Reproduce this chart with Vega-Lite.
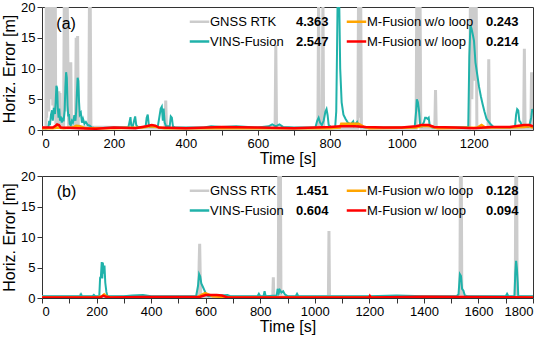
{
  "$schema": "https://vega.github.io/schema/vega-lite/v6.json",
  "padding": {"left": 1, "top": 0, "right": 1, "bottom": 1},
  "spacing": 2,
  "config": {
    "font": "Liberation Sans",
    "view": {"stroke": "#333333", "strokeWidth": 1},
    "axis": {"grid": false, "domain": false, "tickColor": "#333333", "tickSize": 5, "labelFontSize": 13, "titleFontSize": 16, "labelColor": "black", "titleColor": "black", "titleFontWeight": "normal", "labelPadding": 2}
  },
  "datasets": {
    "a": [
      {"s":"GNSS RTK","t":0,"e":0.3},{"s":"GNSS RTK","t":11,"e":0.3},{"s":"GNSS RTK","t":12,"e":22},{"s":"GNSS RTK","t":13,"e":2},{"s":"GNSS RTK","t":14,"e":22},{"s":"GNSS RTK","t":15,"e":4},{"s":"GNSS RTK","t":16,"e":22},{"s":"GNSS RTK","t":17,"e":6},{"s":"GNSS RTK","t":18,"e":22},{"s":"GNSS RTK","t":19,"e":3},{"s":"GNSS RTK","t":20,"e":22},{"s":"GNSS RTK","t":21,"e":8},{"s":"GNSS RTK","t":22,"e":22},{"s":"GNSS RTK","t":23,"e":5},{"s":"GNSS RTK","t":24,"e":22},{"s":"GNSS RTK","t":25,"e":17},{"s":"GNSS RTK","t":26,"e":9},{"s":"GNSS RTK","t":27,"e":17},{"s":"GNSS RTK","t":28,"e":12},{"s":"GNSS RTK","t":29,"e":22},{"s":"GNSS RTK","t":30,"e":4},{"s":"GNSS RTK","t":31,"e":22},{"s":"GNSS RTK","t":32,"e":6},{"s":"GNSS RTK","t":33,"e":22},{"s":"GNSS RTK","t":34,"e":3},{"s":"GNSS RTK","t":35,"e":22},{"s":"GNSS RTK","t":36,"e":8},{"s":"GNSS RTK","t":37,"e":22},{"s":"GNSS RTK","t":38,"e":2},{"s":"GNSS RTK","t":39,"e":0.5},{"s":"GNSS RTK","t":45,"e":0.5},{"s":"GNSS RTK","t":47,"e":6.3},{"s":"GNSS RTK","t":49,"e":1},{"s":"GNSS RTK","t":50,"e":6},{"s":"GNSS RTK","t":52,"e":0.5},{"s":"GNSS RTK","t":60,"e":0.5},{"s":"GNSS RTK","t":62,"e":22},{"s":"GNSS RTK","t":64,"e":3},{"s":"GNSS RTK","t":66,"e":22},{"s":"GNSS RTK","t":68,"e":5},{"s":"GNSS RTK","t":70,"e":22},{"s":"GNSS RTK","t":72,"e":11},{"s":"GNSS RTK","t":74,"e":0.6},{"s":"GNSS RTK","t":78,"e":0.6},{"s":"GNSS RTK","t":80,"e":11},{"s":"GNSS RTK","t":82,"e":0.5},{"s":"GNSS RTK","t":93,"e":0.5},{"s":"GNSS RTK","t":95,"e":15},{"s":"GNSS RTK","t":97,"e":3},{"s":"GNSS RTK","t":99,"e":15.3},{"s":"GNSS RTK","t":101,"e":0.5},{"s":"GNSS RTK","t":130,"e":0.5},{"s":"GNSS RTK","t":132,"e":22},{"s":"GNSS RTK","t":134,"e":22},{"s":"GNSS RTK","t":136,"e":0.5},{"s":"GNSS RTK","t":342,"e":0.3},{"s":"GNSS RTK","t":344,"e":4.8},{"s":"GNSS RTK","t":346,"e":0.3},{"s":"GNSS RTK","t":648,"e":0.3},{"s":"GNSS RTK","t":650,"e":13.8},{"s":"GNSS RTK","t":652,"e":0.3},{"s":"GNSS RTK","t":767,"e":0.3},{"s":"GNSS RTK","t":769,"e":22},{"s":"GNSS RTK","t":771,"e":0.3},{"s":"GNSS RTK","t":779,"e":0.3},{"s":"GNSS RTK","t":781,"e":22},{"s":"GNSS RTK","t":783,"e":0.3},{"s":"GNSS RTK","t":878,"e":0.3},{"s":"GNSS RTK","t":880,"e":22},{"s":"GNSS RTK","t":882,"e":2},{"s":"GNSS RTK","t":884,"e":22},{"s":"GNSS RTK","t":886,"e":22},{"s":"GNSS RTK","t":888,"e":0.3},{"s":"GNSS RTK","t":1040,"e":0.3},{"s":"GNSS RTK","t":1042,"e":22},{"s":"GNSS RTK","t":1045,"e":3},{"s":"GNSS RTK","t":1048,"e":22},{"s":"GNSS RTK","t":1051,"e":22},{"s":"GNSS RTK","t":1053,"e":0.3},{"s":"GNSS RTK","t":1092,"e":0.3},{"s":"GNSS RTK","t":1094,"e":6.5},{"s":"GNSS RTK","t":1096,"e":0.3},{"s":"GNSS RTK","t":1189,"e":0.3},{"s":"GNSS RTK","t":1191,"e":22},{"s":"GNSS RTK","t":1195,"e":5},{"s":"GNSS RTK","t":1199,"e":22},{"s":"GNSS RTK","t":1203,"e":8},{"s":"GNSS RTK","t":1207,"e":22},{"s":"GNSS RTK","t":1209,"e":0.3},{"s":"GNSS RTK","t":1240,"e":0.3},{"s":"GNSS RTK","t":1242,"e":11.5},{"s":"GNSS RTK","t":1244,"e":0.3},{"s":"GNSS RTK","t":1339,"e":0.3},{"s":"GNSS RTK","t":1341,"e":13.2},{"s":"GNSS RTK","t":1343,"e":0.3},{"s":"GNSS RTK","t":1359,"e":0.3},{"s":"GNSS RTK","t":1361,"e":9.4},{"s":"GNSS RTK","t":1363,"e":0.3},{"s":"GNSS RTK","t":1365,"e":0.3},

      {"s":"VINS-Fusion","t":0,"e":0.4},{"s":"VINS-Fusion","t":10,"e":0.3},{"s":"VINS-Fusion","t":18,"e":0.5},{"s":"VINS-Fusion","t":20,"e":1.5},{"s":"VINS-Fusion","t":22,"e":0.8},{"s":"VINS-Fusion","t":25,"e":2.5},{"s":"VINS-Fusion","t":28,"e":3.2},{"s":"VINS-Fusion","t":30,"e":1.5},{"s":"VINS-Fusion","t":33,"e":3.6},{"s":"VINS-Fusion","t":36,"e":2.6},{"s":"VINS-Fusion","t":38,"e":4.5},{"s":"VINS-Fusion","t":40,"e":7.2},{"s":"VINS-Fusion","t":42,"e":6.8},{"s":"VINS-Fusion","t":44,"e":3.5},{"s":"VINS-Fusion","t":46,"e":2.0},{"s":"VINS-Fusion","t":48,"e":3.5},{"s":"VINS-Fusion","t":50,"e":1.5},{"s":"VINS-Fusion","t":52,"e":2.2},{"s":"VINS-Fusion","t":55,"e":1.2},{"s":"VINS-Fusion","t":58,"e":2.0},{"s":"VINS-Fusion","t":60,"e":1.4},{"s":"VINS-Fusion","t":63,"e":3.2},{"s":"VINS-Fusion","t":65,"e":7},{"s":"VINS-Fusion","t":67,"e":9.4},{"s":"VINS-Fusion","t":69,"e":8.5},{"s":"VINS-Fusion","t":71,"e":4},{"s":"VINS-Fusion","t":73,"e":2.2},{"s":"VINS-Fusion","t":75,"e":2.6},{"s":"VINS-Fusion","t":77,"e":1.0},{"s":"VINS-Fusion","t":80,"e":0.8},{"s":"VINS-Fusion","t":83,"e":1.5},{"s":"VINS-Fusion","t":86,"e":1.2},{"s":"VINS-Fusion","t":90,"e":2.4},{"s":"VINS-Fusion","t":93,"e":1.5},{"s":"VINS-Fusion","t":95,"e":3},{"s":"VINS-Fusion","t":97,"e":6},{"s":"VINS-Fusion","t":99,"e":8.5},{"s":"VINS-Fusion","t":101,"e":8},{"s":"VINS-Fusion","t":103,"e":4.5},{"s":"VINS-Fusion","t":105,"e":2.5},{"s":"VINS-Fusion","t":108,"e":2.8},{"s":"VINS-Fusion","t":111,"e":1.2},{"s":"VINS-Fusion","t":114,"e":1.8},{"s":"VINS-Fusion","t":118,"e":1},{"s":"VINS-Fusion","t":122,"e":1.3},{"s":"VINS-Fusion","t":127,"e":0.8},{"s":"VINS-Fusion","t":133,"e":0.7},{"s":"VINS-Fusion","t":138,"e":0.4},{"s":"VINS-Fusion","t":150,"e":0.3},{"s":"VINS-Fusion","t":200,"e":0.4},{"s":"VINS-Fusion","t":240,"e":0.4},{"s":"VINS-Fusion","t":244,"e":1.5},{"s":"VINS-Fusion","t":246,"e":2.1},{"s":"VINS-Fusion","t":248,"e":0.8},{"s":"VINS-Fusion","t":252,"e":0.5},{"s":"VINS-Fusion","t":256,"e":1.5},{"s":"VINS-Fusion","t":259,"e":2.2},{"s":"VINS-Fusion","t":262,"e":0.8},{"s":"VINS-Fusion","t":266,"e":0.5},{"s":"VINS-Fusion","t":288,"e":0.5},{"s":"VINS-Fusion","t":291,"e":2.0},{"s":"VINS-Fusion","t":294,"e":2.5},{"s":"VINS-Fusion","t":297,"e":0.8},{"s":"VINS-Fusion","t":300,"e":0.5},{"s":"VINS-Fusion","t":322,"e":0.6},{"s":"VINS-Fusion","t":326,"e":2.0},{"s":"VINS-Fusion","t":330,"e":3.5},{"s":"VINS-Fusion","t":333,"e":3.8},{"s":"VINS-Fusion","t":336,"e":1.5},{"s":"VINS-Fusion","t":338,"e":3.5},{"s":"VINS-Fusion","t":341,"e":1.2},{"s":"VINS-Fusion","t":345,"e":0.6},{"s":"VINS-Fusion","t":355,"e":0.6},{"s":"VINS-Fusion","t":358,"e":2.2},{"s":"VINS-Fusion","t":361,"e":2.0},{"s":"VINS-Fusion","t":364,"e":0.6},{"s":"VINS-Fusion","t":370,"e":0.4},{"s":"VINS-Fusion","t":450,"e":0.4},{"s":"VINS-Fusion","t":470,"e":0.6},{"s":"VINS-Fusion","t":500,"e":0.5},{"s":"VINS-Fusion","t":540,"e":0.6},{"s":"VINS-Fusion","t":600,"e":0.4},{"s":"VINS-Fusion","t":630,"e":0.6},{"s":"VINS-Fusion","t":640,"e":0.9},{"s":"VINS-Fusion","t":650,"e":0.6},{"s":"VINS-Fusion","t":660,"e":0.9},{"s":"VINS-Fusion","t":670,"e":0.5},{"s":"VINS-Fusion","t":700,"e":0.4},{"s":"VINS-Fusion","t":760,"e":0.4},{"s":"VINS-Fusion","t":765,"e":1.5},{"s":"VINS-Fusion","t":769,"e":2.0},{"s":"VINS-Fusion","t":773,"e":1.2},{"s":"VINS-Fusion","t":778,"e":0.8},{"s":"VINS-Fusion","t":783,"e":1.5},{"s":"VINS-Fusion","t":788,"e":3.0},{"s":"VINS-Fusion","t":791,"e":3.4},{"s":"VINS-Fusion","t":794,"e":2.4},{"s":"VINS-Fusion","t":797,"e":0.8},{"s":"VINS-Fusion","t":805,"e":0.4},{"s":"VINS-Fusion","t":815,"e":0.4},{"s":"VINS-Fusion","t":818,"e":3},{"s":"VINS-Fusion","t":820,"e":12},{"s":"VINS-Fusion","t":822,"e":22},{"s":"VINS-Fusion","t":826,"e":22},{"s":"VINS-Fusion","t":829,"e":10},{"s":"VINS-Fusion","t":833,"e":4.5},{"s":"VINS-Fusion","t":838,"e":2.5},{"s":"VINS-Fusion","t":844,"e":1.8},{"s":"VINS-Fusion","t":850,"e":1.2},{"s":"VINS-Fusion","t":858,"e":0.9},{"s":"VINS-Fusion","t":865,"e":1.4},{"s":"VINS-Fusion","t":868,"e":0.7},{"s":"VINS-Fusion","t":876,"e":1.3},{"s":"VINS-Fusion","t":880,"e":0.6},{"s":"VINS-Fusion","t":900,"e":0.4},{"s":"VINS-Fusion","t":1000,"e":0.4},{"s":"VINS-Fusion","t":1036,"e":0.4},{"s":"VINS-Fusion","t":1040,"e":3},{"s":"VINS-Fusion","t":1042,"e":5},{"s":"VINS-Fusion","t":1045,"e":4.5},{"s":"VINS-Fusion","t":1048,"e":3.2},{"s":"VINS-Fusion","t":1051,"e":0.9},{"s":"VINS-Fusion","t":1056,"e":0.6},{"s":"VINS-Fusion","t":1062,"e":1.3},{"s":"VINS-Fusion","t":1065,"e":2},{"s":"VINS-Fusion","t":1068,"e":2},{"s":"VINS-Fusion","t":1072,"e":1.8},{"s":"VINS-Fusion","t":1075,"e":2},{"s":"VINS-Fusion","t":1078,"e":0.7},{"s":"VINS-Fusion","t":1085,"e":0.4},{"s":"VINS-Fusion","t":1150,"e":0.4},{"s":"VINS-Fusion","t":1185,"e":0.5},{"s":"VINS-Fusion","t":1188,"e":12},{"s":"VINS-Fusion","t":1191,"e":17},{"s":"VINS-Fusion","t":1194,"e":16.5},{"s":"VINS-Fusion","t":1198,"e":15.4},{"s":"VINS-Fusion","t":1201,"e":14.5},{"s":"VINS-Fusion","t":1205,"e":11},{"s":"VINS-Fusion","t":1210,"e":9},{"s":"VINS-Fusion","t":1215,"e":7},{"s":"VINS-Fusion","t":1220,"e":5.5},{"s":"VINS-Fusion","t":1225,"e":4.2},{"s":"VINS-Fusion","t":1230,"e":3},{"s":"VINS-Fusion","t":1236,"e":1.8},{"s":"VINS-Fusion","t":1246,"e":1},{"s":"VINS-Fusion","t":1255,"e":0.5},{"s":"VINS-Fusion","t":1300,"e":0.4},{"s":"VINS-Fusion","t":1315,"e":0.5},{"s":"VINS-Fusion","t":1318,"e":2.5},{"s":"VINS-Fusion","t":1321,"e":3.4},{"s":"VINS-Fusion","t":1324,"e":3.2},{"s":"VINS-Fusion","t":1327,"e":1.5},{"s":"VINS-Fusion","t":1330,"e":1.3},{"s":"VINS-Fusion","t":1335,"e":0.6},{"s":"VINS-Fusion","t":1345,"e":0.5},{"s":"VINS-Fusion","t":1352,"e":0.5},{"s":"VINS-Fusion","t":1356,"e":1},{"s":"VINS-Fusion","t":1360,"e":2},{"s":"VINS-Fusion","t":1363,"e":3.4},{"s":"VINS-Fusion","t":1365,"e":3},

      {"s":"M-Fusion w/o loop","t":0,"e":0.3},{"s":"M-Fusion w/o loop","t":30,"e":0.3},{"s":"M-Fusion w/o loop","t":45,"e":0.4},{"s":"M-Fusion w/o loop","t":60,"e":0.3},{"s":"M-Fusion w/o loop","t":85,"e":0.4},{"s":"M-Fusion w/o loop","t":95,"e":0.7},{"s":"M-Fusion w/o loop","t":105,"e":0.6},{"s":"M-Fusion w/o loop","t":120,"e":0.3},{"s":"M-Fusion w/o loop","t":200,"e":0.3},{"s":"M-Fusion w/o loop","t":280,"e":0.4},{"s":"M-Fusion w/o loop","t":300,"e":0.6},{"s":"M-Fusion w/o loop","t":320,"e":0.5},{"s":"M-Fusion w/o loop","t":340,"e":0.3},{"s":"M-Fusion w/o loop","t":600,"e":0.3},{"s":"M-Fusion w/o loop","t":800,"e":0.3},{"s":"M-Fusion w/o loop","t":828,"e":0.4},{"s":"M-Fusion w/o loop","t":832,"e":1.0},{"s":"M-Fusion w/o loop","t":880,"e":1.0},{"s":"M-Fusion w/o loop","t":895,"e":0.5},{"s":"M-Fusion w/o loop","t":910,"e":0.3},{"s":"M-Fusion w/o loop","t":1040,"e":0.4},{"s":"M-Fusion w/o loop","t":1060,"e":0.7},{"s":"M-Fusion w/o loop","t":1080,"e":0.6},{"s":"M-Fusion w/o loop","t":1100,"e":0.3},{"s":"M-Fusion w/o loop","t":1210,"e":0.4},{"s":"M-Fusion w/o loop","t":1222,"e":0.8},{"s":"M-Fusion w/o loop","t":1232,"e":0.4},{"s":"M-Fusion w/o loop","t":1300,"e":0.4},{"s":"M-Fusion w/o loop","t":1340,"e":0.5},{"s":"M-Fusion w/o loop","t":1355,"e":0.6},{"s":"M-Fusion w/o loop","t":1365,"e":0.4},

      {"s":"M-Fusion w/ loop","t":0,"e":0.4},{"s":"M-Fusion w/ loop","t":30,"e":0.4},{"s":"M-Fusion w/ loop","t":38,"e":0.7},{"s":"M-Fusion w/ loop","t":42,"e":0.9},{"s":"M-Fusion w/ loop","t":47,"e":0.8},{"s":"M-Fusion w/ loop","t":52,"e":0.4},{"s":"M-Fusion w/ loop","t":100,"e":0.3},{"s":"M-Fusion w/ loop","t":150,"e":0.2},{"s":"M-Fusion w/ loop","t":200,"e":0.4},{"s":"M-Fusion w/ loop","t":260,"e":0.3},{"s":"M-Fusion w/ loop","t":290,"e":0.6},{"s":"M-Fusion w/ loop","t":305,"e":0.8},{"s":"M-Fusion w/ loop","t":315,"e":0.7},{"s":"M-Fusion w/ loop","t":325,"e":0.4},{"s":"M-Fusion w/ loop","t":400,"e":0.3},{"s":"M-Fusion w/ loop","t":500,"e":0.5},{"s":"M-Fusion w/ loop","t":600,"e":0.4},{"s":"M-Fusion w/ loop","t":700,"e":0.3},{"s":"M-Fusion w/ loop","t":800,"e":0.5},{"s":"M-Fusion w/ loop","t":830,"e":0.6},{"s":"M-Fusion w/ loop","t":870,"e":0.6},{"s":"M-Fusion w/ loop","t":900,"e":0.5},{"s":"M-Fusion w/ loop","t":950,"e":0.4},{"s":"M-Fusion w/ loop","t":1000,"e":0.4},{"s":"M-Fusion w/ loop","t":1040,"e":0.6},{"s":"M-Fusion w/ loop","t":1055,"e":0.8},{"s":"M-Fusion w/ loop","t":1075,"e":0.8},{"s":"M-Fusion w/ loop","t":1090,"e":0.5},{"s":"M-Fusion w/ loop","t":1150,"e":0.4},{"s":"M-Fusion w/ loop","t":1200,"e":0.3},{"s":"M-Fusion w/ loop","t":1250,"e":0.5},{"s":"M-Fusion w/ loop","t":1300,"e":0.5},{"s":"M-Fusion w/ loop","t":1340,"e":0.8},{"s":"M-Fusion w/ loop","t":1355,"e":0.8},{"s":"M-Fusion w/ loop","t":1365,"e":0.6}
    ],
    "b": [
      {"s":"GNSS RTK","t":0,"e":0.2},{"s":"GNSS RTK","t":140,"e":0.2},{"s":"GNSS RTK","t":142,"e":0.7},{"s":"GNSS RTK","t":144,"e":0.2},{"s":"GNSS RTK","t":574,"e":0.2},{"s":"GNSS RTK","t":576,"e":5.5},{"s":"GNSS RTK","t":578,"e":8.9},{"s":"GNSS RTK","t":580,"e":4},{"s":"GNSS RTK","t":582,"e":0.2},{"s":"GNSS RTK","t":846,"e":0.2},{"s":"GNSS RTK","t":848,"e":3.4},{"s":"GNSS RTK","t":850,"e":0.2},{"s":"GNSS RTK","t":866,"e":0.2},{"s":"GNSS RTK","t":868,"e":22},{"s":"GNSS RTK","t":871,"e":22},{"s":"GNSS RTK","t":874,"e":22},{"s":"GNSS RTK","t":876,"e":0.2},{"s":"GNSS RTK","t":1050,"e":0.2},{"s":"GNSS RTK","t":1052,"e":11},{"s":"GNSS RTK","t":1054,"e":0.2},{"s":"GNSS RTK","t":1532,"e":0.2},{"s":"GNSS RTK","t":1534,"e":22},{"s":"GNSS RTK","t":1537,"e":22},{"s":"GNSS RTK","t":1539,"e":0.2},{"s":"GNSS RTK","t":1735,"e":0.2},{"s":"GNSS RTK","t":1737,"e":22},{"s":"GNSS RTK","t":1740,"e":22},{"s":"GNSS RTK","t":1742,"e":0.2},{"s":"GNSS RTK","t":1800,"e":0.2},

      {"s":"VINS-Fusion","t":0,"e":0.3},{"s":"VINS-Fusion","t":140,"e":0.3},{"s":"VINS-Fusion","t":143,"e":0.6},{"s":"VINS-Fusion","t":146,"e":0.3},{"s":"VINS-Fusion","t":185,"e":0.3},{"s":"VINS-Fusion","t":190,"e":0.5},{"s":"VINS-Fusion","t":195,"e":0.3},{"s":"VINS-Fusion","t":210,"e":0.3},{"s":"VINS-Fusion","t":213,"e":3.3},{"s":"VINS-Fusion","t":216,"e":3.5},{"s":"VINS-Fusion","t":219,"e":5.9},{"s":"VINS-Fusion","t":221,"e":3.2},{"s":"VINS-Fusion","t":223,"e":5.8},{"s":"VINS-Fusion","t":226,"e":4.0},{"s":"VINS-Fusion","t":229,"e":5.3},{"s":"VINS-Fusion","t":232,"e":2.5},{"s":"VINS-Fusion","t":236,"e":1.0},{"s":"VINS-Fusion","t":240,"e":0.3},{"s":"VINS-Fusion","t":300,"e":0.3},{"s":"VINS-Fusion","t":330,"e":0.4},{"s":"VINS-Fusion","t":370,"e":0.5},{"s":"VINS-Fusion","t":400,"e":0.3},{"s":"VINS-Fusion","t":565,"e":0.3},{"s":"VINS-Fusion","t":572,"e":2},{"s":"VINS-Fusion","t":576,"e":3.9},{"s":"VINS-Fusion","t":580,"e":3.5},{"s":"VINS-Fusion","t":584,"e":2.4},{"s":"VINS-Fusion","t":590,"e":1.8},{"s":"VINS-Fusion","t":596,"e":1.2},{"s":"VINS-Fusion","t":602,"e":0.6},{"s":"VINS-Fusion","t":610,"e":0.3},{"s":"VINS-Fusion","t":680,"e":0.5},{"s":"VINS-Fusion","t":690,"e":0.3},{"s":"VINS-Fusion","t":790,"e":0.3},{"s":"VINS-Fusion","t":795,"e":0.7},{"s":"VINS-Fusion","t":800,"e":0.3},{"s":"VINS-Fusion","t":812,"e":0.3},{"s":"VINS-Fusion","t":816,"e":1.1},{"s":"VINS-Fusion","t":820,"e":0.3},{"s":"VINS-Fusion","t":860,"e":0.4},{"s":"VINS-Fusion","t":864,"e":1.5},{"s":"VINS-Fusion","t":868,"e":0.8},{"s":"VINS-Fusion","t":872,"e":1.3},{"s":"VINS-Fusion","t":878,"e":0.9},{"s":"VINS-Fusion","t":884,"e":1.1},{"s":"VINS-Fusion","t":890,"e":0.6},{"s":"VINS-Fusion","t":900,"e":0.3},{"s":"VINS-Fusion","t":930,"e":0.3},{"s":"VINS-Fusion","t":935,"e":0.7},{"s":"VINS-Fusion","t":940,"e":0.3},{"s":"VINS-Fusion","t":1200,"e":0.3},{"s":"VINS-Fusion","t":1300,"e":0.4},{"s":"VINS-Fusion","t":1400,"e":0.3},{"s":"VINS-Fusion","t":1520,"e":0.3},{"s":"VINS-Fusion","t":1527,"e":0.6},{"s":"VINS-Fusion","t":1532,"e":3.9},{"s":"VINS-Fusion","t":1536,"e":3.6},{"s":"VINS-Fusion","t":1540,"e":1.5},{"s":"VINS-Fusion","t":1545,"e":1.2},{"s":"VINS-Fusion","t":1550,"e":0.4},{"s":"VINS-Fusion","t":1560,"e":0.3},{"s":"VINS-Fusion","t":1700,"e":0.3},{"s":"VINS-Fusion","t":1705,"e":0.7},{"s":"VINS-Fusion","t":1710,"e":0.3},{"s":"VINS-Fusion","t":1732,"e":0.3},{"s":"VINS-Fusion","t":1735,"e":4},{"s":"VINS-Fusion","t":1738,"e":6.1},{"s":"VINS-Fusion","t":1741,"e":4.8},{"s":"VINS-Fusion","t":1744,"e":2.5},{"s":"VINS-Fusion","t":1746,"e":0.3},{"s":"VINS-Fusion","t":1800,"e":0.3},

      {"s":"M-Fusion w/o loop","t":0,"e":0.1},{"s":"M-Fusion w/o loop","t":200,"e":0.1},{"s":"M-Fusion w/o loop","t":220,"e":0.3},{"s":"M-Fusion w/o loop","t":228,"e":0.6},{"s":"M-Fusion w/o loop","t":236,"e":0.3},{"s":"M-Fusion w/o loop","t":250,"e":0.1},{"s":"M-Fusion w/o loop","t":570,"e":0.1},{"s":"M-Fusion w/o loop","t":585,"e":0.5},{"s":"M-Fusion w/o loop","t":598,"e":0.8},{"s":"M-Fusion w/o loop","t":610,"e":0.6},{"s":"M-Fusion w/o loop","t":625,"e":0.3},{"s":"M-Fusion w/o loop","t":650,"e":0.2},{"s":"M-Fusion w/o loop","t":700,"e":0.1},{"s":"M-Fusion w/o loop","t":1800,"e":0.1},

      {"s":"M-Fusion w/ loop","t":0,"e":0.1},{"s":"M-Fusion w/ loop","t":215,"e":0.1},{"s":"M-Fusion w/ loop","t":225,"e":0.4},{"s":"M-Fusion w/ loop","t":235,"e":0.2},{"s":"M-Fusion w/ loop","t":250,"e":0.1},{"s":"M-Fusion w/ loop","t":370,"e":0.15},{"s":"M-Fusion w/ loop","t":580,"e":0.2},{"s":"M-Fusion w/ loop","t":600,"e":0.5},{"s":"M-Fusion w/ loop","t":640,"e":0.5},{"s":"M-Fusion w/ loop","t":660,"e":0.4},{"s":"M-Fusion w/ loop","t":680,"e":0.1},{"s":"M-Fusion w/ loop","t":1200,"e":0.1},{"s":"M-Fusion w/ loop","t":1202,"e":0.3},{"s":"M-Fusion w/ loop","t":1205,"e":0.1},{"s":"M-Fusion w/ loop","t":1400,"e":0.2},{"s":"M-Fusion w/ loop","t":1800,"e":0.1}
    ]
  },
  "vconcat": [
    {
      "width": 491,
      "height": 123,
      "layer": [
        {
          "data": {"name": "a"},
          "encoding": {
            "x": {"field": "t", "type": "quantitative", "scale": {"domain": [0, 1365], "nice": false, "zero": false}, "axis": {"title": "Time [s]", "titlePadding": 0, "values": [0,100,200,300,400,500,600,700,800,900,1000,1100,1200,1300], "labelExpr": "datum.value % 200 == 0 ? toString(datum.value) : ''"}},
            "y": {"field": "e", "type": "quantitative", "scale": {"domain": [0, 20], "nice": false}, "axis": {"title": "Horiz. Error [m]", "values": [0,5,10,15,20], "titlePadding": 3}},
            "color": {"field": "s", "type": "nominal",
              "scale": {"domain": ["GNSS RTK", "VINS-Fusion", "4.363", "2.547", "M-Fusion w/o loop", "M-Fusion w/ loop", "0.243", "0.214"], "range": ["#cccccc", "#20b2aa", "transparent", "transparent", "#ffa500", "#ff0000", "transparent", "transparent"]},
              "legend": {"title": null, "orient": "none", "legendX": 151, "legendY": 8, "columns": 4, "symbolType": "stroke", "symbolSize": 380, "symbolStrokeWidth": 2.5, "labelFontSize": 13, "labelOffset": 4, "columnPadding": 12, "rowPadding": 6, "labelLimit": 250, "padding": 0,
                "encode": {"symbols": {"update": {"size": {"signal": "isNaN(toNumber(datum.label)) ? 380 : 0"}}}, "labels": {"update": {"fontWeight": {"signal": "isNaN(toNumber(datum.label)) ? 'normal' : 'bold'"}, "dx": {"signal": "isNaN(toNumber(datum.label)) ? 0 : -20"}}}}}
            }
          },
          "layer": [
            {"transform": [{"filter": "datum.s == 'GNSS RTK'"}], "mark": {"type": "line", "strokeWidth": 3, "clip": true}},
            {"transform": [{"filter": "datum.s == 'VINS-Fusion'"}], "mark": {"type": "line", "strokeWidth": 2, "clip": true}},
            {"transform": [{"filter": "datum.s == 'M-Fusion w/o loop'"}], "mark": {"type": "line", "strokeWidth": 2.5, "clip": true}},
            {"transform": [{"filter": "datum.s == 'M-Fusion w/ loop'"}], "mark": {"type": "line", "strokeWidth": 2.5, "clip": true}}
          ]
        },
        {
          "data": {"values": [{"label": "(a)"}]},
          "mark": {"type": "text", "fontSize": 16, "align": "center", "baseline": "middle", "fill": "black"},
          "encoding": {
            "x": {"datum": 67, "type": "quantitative", "scale": {"domain": [0, 1365], "nice": false, "zero": false}, "axis": {"title": "Time [s]", "titlePadding": 0, "values": [0,100,200,300,400,500,600,700,800,900,1000,1100,1200,1300], "labelExpr": "datum.value % 200 == 0 ? toString(datum.value) : ''"}},
            "y": {"datum": 17.2, "type": "quantitative", "scale": {"domain": [0, 20], "nice": false}, "axis": {"title": "Horiz. Error [m]", "values": [0,5,10,15,20], "titlePadding": 3}},
            "text": {"field": "label", "type": "nominal"}
          }
        }
      ]
    },
    {
      "width": 491,
      "height": 122,
      "layer": [
        {
          "data": {"name": "b"},
          "encoding": {
            "x": {"field": "t", "type": "quantitative", "scale": {"domain": [0, 1800], "nice": false, "zero": false}, "axis": {"title": "Time [s]", "titlePadding": 0, "values": [0,100,200,300,400,500,600,700,800,900,1000,1100,1200,1300,1400,1500,1600,1700,1800], "labelExpr": "datum.value % 200 == 0 ? toString(datum.value) : ''"}},
            "y": {"field": "e", "type": "quantitative", "scale": {"domain": [0, 20], "nice": false}, "axis": {"title": "Horiz. Error [m]", "values": [0,5,10,15,20], "titlePadding": 3}},
            "color": {"field": "s", "type": "nominal",
              "scale": {"domain": ["GNSS RTK", "VINS-Fusion", "1.451", "0.604", "M-Fusion w/o loop", "M-Fusion w/ loop", "0.128", "0.094"], "range": ["#cccccc", "#20b2aa", "transparent", "transparent", "#ffa500", "#ff0000", "transparent", "transparent"]},
              "legend": {"title": null, "orient": "none", "legendX": 151, "legendY": 8, "columns": 4, "symbolType": "stroke", "symbolSize": 380, "symbolStrokeWidth": 2.5, "labelFontSize": 13, "labelOffset": 4, "columnPadding": 12, "rowPadding": 6, "labelLimit": 250, "padding": 0,
                "encode": {"symbols": {"update": {"size": {"signal": "isNaN(toNumber(datum.label)) ? 380 : 0"}}}, "labels": {"update": {"fontWeight": {"signal": "isNaN(toNumber(datum.label)) ? 'normal' : 'bold'"}, "dx": {"signal": "isNaN(toNumber(datum.label)) ? 0 : -20"}}}}}
            }
          },
          "layer": [
            {"transform": [{"filter": "datum.s == 'GNSS RTK'"}], "mark": {"type": "line", "strokeWidth": 3, "clip": true}},
            {"transform": [{"filter": "datum.s == 'VINS-Fusion'"}], "mark": {"type": "line", "strokeWidth": 2, "clip": true}},
            {"transform": [{"filter": "datum.s == 'M-Fusion w/o loop'"}], "mark": {"type": "line", "strokeWidth": 2.5, "clip": true}},
            {"transform": [{"filter": "datum.s == 'M-Fusion w/ loop'"}], "mark": {"type": "line", "strokeWidth": 2.5, "clip": true}}
          ]
        },
        {
          "data": {"values": [{"label": "(b)"}]},
          "mark": {"type": "text", "fontSize": 16, "align": "center", "baseline": "middle", "fill": "black"},
          "encoding": {
            "x": {"datum": 90, "type": "quantitative", "scale": {"domain": [0, 1800], "nice": false, "zero": false}, "axis": {"title": "Time [s]", "titlePadding": 0, "values": [0,100,200,300,400,500,600,700,800,900,1000,1100,1200,1300,1400,1500,1600,1700,1800], "labelExpr": "datum.value % 200 == 0 ? toString(datum.value) : ''"}},
            "y": {"datum": 17.3, "type": "quantitative", "scale": {"domain": [0, 20], "nice": false}, "axis": {"title": "Horiz. Error [m]", "values": [0,5,10,15,20], "titlePadding": 3}},
            "text": {"field": "label", "type": "nominal"}
          }
        }
      ]
    }
  ],
  "resolve": {"scale": {"color": "independent", "x": "independent", "y": "independent"}, "legend": {"color": "independent"}}
}
